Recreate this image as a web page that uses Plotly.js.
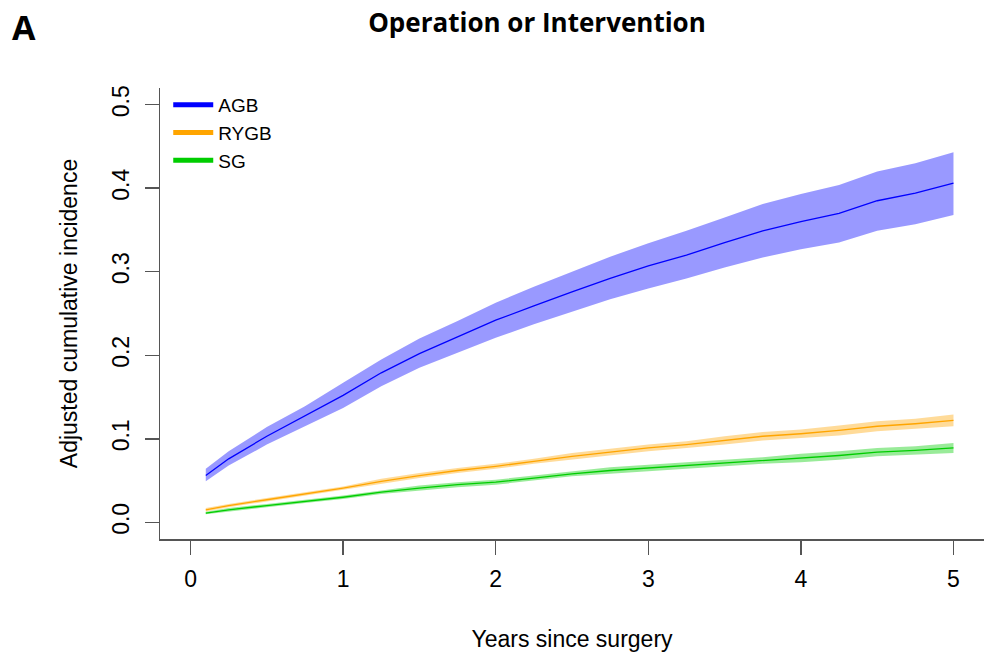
<!DOCTYPE html>
<html>
<head>
<meta charset="utf-8">
<script src="https://cdn.plot.ly/plotly-3.0.1.min.js"></script>
<style>html,body{margin:0;padding:0;background:#fff;}#chart{width:985px;height:654px;}</style>
</head>
<body>
<div id="chart"></div>
<script>
const years = [0.1,0.25,0.5,0.75,1.0,1.25,1.5,1.75,2.0,2.25,2.5,2.75,3.0,3.25,3.5,3.75,4.0,4.25,4.5,4.75,5.0];

const agbMid   = [0.056,0.076,0.103,0.127,0.152,0.179,0.202,0.222,0.242,0.259,0.276,0.292,0.307,0.320,0.335,0.349,0.360,0.370,0.385,0.394,0.406];
const agbLow   = [0.049,0.068,0.093,0.115,0.137,0.163,0.185,0.203,0.221,0.237,0.252,0.267,0.280,0.292,0.305,0.317,0.327,0.335,0.349,0.357,0.368];
const agbHigh  = [0.064,0.085,0.114,0.139,0.167,0.195,0.220,0.241,0.263,0.282,0.300,0.318,0.334,0.349,0.365,0.381,0.393,0.404,0.420,0.430,0.443];

const rygbMid  = [0.015,0.020,0.027,0.034,0.041,0.049,0.056,0.062,0.067,0.073,0.079,0.084,0.089,0.093,0.098,0.103,0.106,0.110,0.115,0.118,0.122];
const rygbLow  = [0.013,0.018,0.025,0.032,0.039,0.046,0.053,0.059,0.064,0.070,0.075,0.080,0.085,0.089,0.093,0.098,0.101,0.104,0.109,0.112,0.115];
const rygbHigh = [0.017,0.022,0.029,0.036,0.043,0.052,0.059,0.065,0.070,0.076,0.083,0.088,0.093,0.097,0.103,0.108,0.111,0.116,0.121,0.124,0.129];

const sgMid    = [0.011,0.015,0.020,0.025,0.030,0.036,0.041,0.045,0.048,0.053,0.058,0.062,0.065,0.068,0.071,0.074,0.077,0.080,0.084,0.086,0.089];
const sgLow    = [0.0095,0.013,0.018,0.023,0.028,0.034,0.038,0.042,0.045,0.050,0.055,0.058,0.061,0.064,0.067,0.070,0.072,0.075,0.079,0.081,0.083];
const sgHigh   = [0.0125,0.017,0.022,0.027,0.032,0.038,0.044,0.048,0.051,0.056,0.061,0.066,0.069,0.072,0.075,0.078,0.082,0.085,0.089,0.091,0.095];

const seriesNames = ['AGB','RYGB','SG'];
const lineColors = ['#0000FF','#FFA500','#00CD00'];
const bandColors = ['rgba(0,0,255,0.4)','rgba(255,165,0,0.4)','rgba(0,205,0,0.4)'];

const xTicks = [0,1,2,3,4,5];
const yTicks = [0,0.1,0.2,0.3,0.4,0.5];

const groups = [
  {mid: agbMid, low: agbLow, high: agbHigh},
  {mid: rygbMid, low: rygbLow, high: rygbHigh},
  {mid: sgMid, low: sgLow, high: sgHigh}
];

const traces = [];
groups.forEach((g, i) => {
  traces.push({x: years, y: g.low, mode: 'lines', line: {width: 0, color: bandColors[i]}, showlegend: false, hoverinfo: 'skip'});
  traces.push({x: years, y: g.high, mode: 'lines', line: {width: 0, color: bandColors[i]}, fill: 'tonexty', fillcolor: bandColors[i], showlegend: false, hoverinfo: 'skip'});
});
groups.forEach((g, i) => {
  traces.push({x: years, y: g.mid, mode: 'lines', line: {width: 1.3, color: lineColors[i]}, showlegend: false, name: seriesNames[i]});
});
seriesNames.forEach((n, i) => {
  traces.push({x: [null], y: [null], mode: 'lines', line: {width: 5, color: lineColors[i]}, name: n, showlegend: true});
});

const axisFont = {family: 'Liberation Sans, Arial, sans-serif', size: 23, color: '#000'};

const layout = {
  width: 985, height: 654,
  paper_bgcolor: '#fff', plot_bgcolor: '#fff',
  margin: {l: 160, r: 1, t: 88, b: 115},
  title: {text: '<b>Operation or Intervention</b>', x: 537/985, xanchor: 'center', y: 0.965, yanchor: 'middle',
          font: {family: 'Open Sans, sans-serif', size: 26, color: '#000'}},
  xaxis: {
    range: [-0.2, 5.2], tickvals: xTicks, ticktext: xTicks.map(String),
    showgrid: false, zeroline: false, showline: true, linecolor: '#555', linewidth: 1.5,
    ticks: 'outside', ticklen: 14, tickwidth: 1.5, tickcolor: '#555',
    tickfont: axisFont, ticklabelstandoff: 5,
    title: {text: 'Years since surgery', font: axisFont, standoff: 40}
  },
  yaxis: {
    range: [-0.02, 0.52], tickvals: yTicks, ticktext: yTicks.map(v => v.toFixed(1)),
    showgrid: false, zeroline: false, showline: true, linecolor: '#555', linewidth: 1.5,
    ticks: 'outside', ticklen: 14, tickwidth: 1.5, tickcolor: '#555',
    tickangle: -90, tickfont: axisFont, ticklabelstandoff: 6,
    title: {text: 'Adjusted cumulative incidence', font: axisFont, standoff: 24}
  },
  legend: {x: 0.01, y: 1 + 2/451, xanchor: 'left', yanchor: 'top', bgcolor: 'rgba(0,0,0,0)', traceorder: 'normal',
           itemwidth: 40,
           font: {family: 'Liberation Sans, Arial, sans-serif', size: 19, color: '#000'}, tracegroupgap: 0},
  annotations: [
    {text: '<b>A</b>', xref: 'paper', yref: 'paper', x: -150/824, y: 1 + (88-27)/451, xanchor: 'left', yanchor: 'middle',
     showarrow: false, font: {family: 'Open Sans, sans-serif', size: 34, color: '#000'}}
  ],
  showlegend: true
};

Plotly.newPlot('chart', traces, layout, {displayModeBar: false, staticPlot: true});
</script>
</body>
</html>
